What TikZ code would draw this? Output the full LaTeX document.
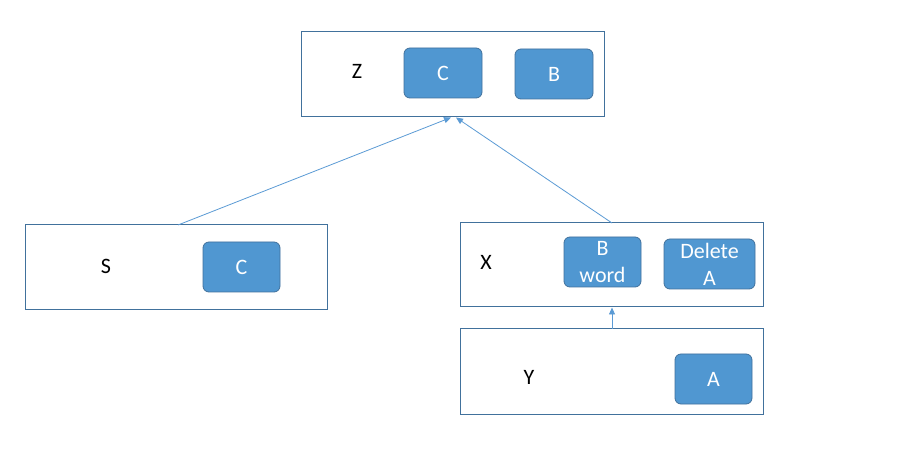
\documentclass[tikz,border=0pt]{standalone}
\usepackage{fontspec}
\setmainfont{Carlito}
\usetikzlibrary{arrows.meta}
\definecolor{boxfill}{HTML}{5097D1}
\definecolor{boxedge}{HTML}{41719C}
\definecolor{linkc}{HTML}{5B9BD5}
\begin{document}
\begin{tikzpicture}[x=1pt,y=-1pt,
  outer/.style={draw=boxedge,line width=1pt,fill=white},
  inner/.style={draw=boxedge,line width=0.8pt,fill=boxfill,rounded corners=6pt,text=white,align=center,font=\fontsize{22}{27}\selectfont},
  lbl/.style={font=\fontsize{22}{26}\selectfont,text=black},
  link/.style={draw=linkc,line width=0.8pt,-{Triangle[length=7pt,width=6pt]}}]
\useasboundingbox (0,0) rectangle (914,465);
\fill[white] (0,0) rectangle (914,465);
% Z
\draw[outer] (301,32) rectangle (604,117);
\node[lbl] (zl) at (357,71) {Z};
\node[inner,minimum width=78pt,minimum height=50pt] (zc) at (443,73) {C};
\node[inner,minimum width=78pt,minimum height=50pt] (zb) at (554,74) {B};
% S
\draw[outer] (25,225) rectangle (327,310);
\node[lbl] (sl) at (106,266) {S};
\node[inner,minimum width=77pt,minimum height=50pt] (sc) at (241.5,267) {C};
% X
\draw[outer] (460,223) rectangle (763,307);
\node[lbl] (xl) at (486,262) {X};
\node[inner,minimum width=77pt,minimum height=50pt,inner sep=0pt] (xb) at (602.5,262) {B\\word};
\node[inner,minimum width=91pt,minimum height=50pt,inner sep=0pt] (xd) at (709.5,264) {Delete\\A};
% Y
\draw[outer] (460,329) rectangle (763,414);
\node[lbl] (yl) at (529,377) {Y};
\node[inner,minimum width=77pt,minimum height=50pt] (ya) at (713.5,379) {A};
% connector anchors
\coordinate (zb1) at (451,117.5);
\coordinate (zb2) at (456,117.5);
\coordinate (stop) at (178,225);
\coordinate (xtop) at (612,223);
\coordinate (xbot) at (612,307.5);
\coordinate (ytop) at (612,329);
\draw[link] (stop) -- (zb1);
\draw[link] (xtop) -- (zb2);
\draw[link] (ytop) -- (xbot);
\end{tikzpicture}
\end{document}
